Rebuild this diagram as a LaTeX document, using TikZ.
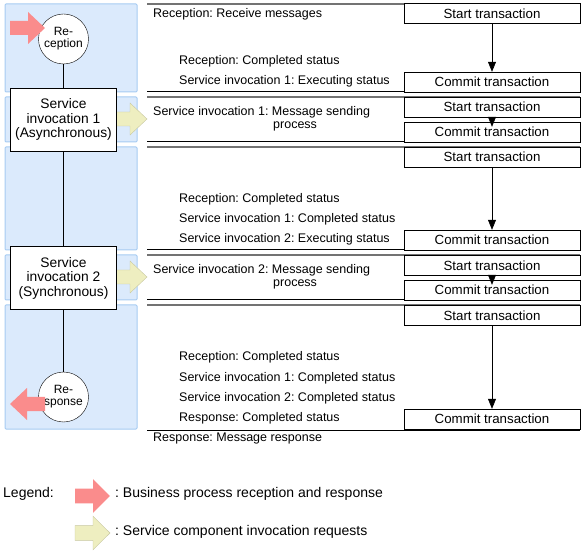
\documentclass[tikz,border=0pt]{standalone}
\usepackage{fontspec}
\setmainfont{Liberation Sans}
\frenchspacing
\usetikzlibrary{arrows.meta, positioning}
\definecolor{lanefill}{RGB}{219,234,252}
\definecolor{laneline}{RGB}{166,203,242}
\definecolor{pinkarr}{RGB}{250,140,140}
\definecolor{yellowarr}{RGB}{238,238,192}
\definecolor{yellowline}{RGB}{200,200,160}
\tikzstyle{lane} = [draw=laneline, fill=lanefill, line width=1pt, rounded corners=1pt]
\tikzstyle{txbox} = [rectangle, draw=black, fill=white, minimum width=176pt, minimum height=20pt, inner sep=0pt, font=\fontsize{13.3}{15}\selectfont]
\tikzstyle{service} = [rectangle, draw=black, fill=white, minimum width=106pt, minimum height=63pt, inner sep=0pt, align=center, font=\fontsize{13.8}{14.5}\selectfont]
\tikzstyle{endpoint} = [circle, draw=black, fill=white, minimum size=50pt, inner sep=0pt, align=center, font=\fontsize{12}{12}\selectfont]
\tikzstyle{status} = [anchor=west, inner sep=0pt, align=left, font=\fontsize{12.5}{13}\selectfont]
\tikzstyle{legendtext} = [anchor=west, inner sep=0pt, font=\fontsize{14}{16}\selectfont]
\tikzstyle{arrow} = [semithick, -{Triangle[length=10pt,width=8pt]}]
\tikzstyle{pinkarrow} = [fill=pinkarr]
\tikzstyle{yellowarrow} = [fill=yellowarr, draw=yellowline]
\tikzstyle{endline} = [black, line width=1pt]
\tikzstyle{startline} = [black!55, line width=1.5pt]
\tikzset{fatarrow/.pic={\path[pic actions] (0,-7) -- (18,-7) -- (18,-16) -- (35,0) -- (18,16) -- (18,7) -- (0,7) -- cycle;}}

\begin{document}
\begin{tikzpicture}[x=1pt, y=-1pt]
    \useasboundingbox (0,0) rectangle (584,553);

    % lanes on the left
    \draw[lane] (5,4) rectangle (137,92);
    \draw[lane] (5,97) rectangle (137,142);
    \draw[lane] (5,147) rectangle (137,250);
    \draw[lane] (5,255) rectangle (137,300);
    \draw[lane] (5,305) rectangle (137,429);

    % transaction borders
    \foreach \y in {4,97,147,255,305}
        \draw[startline] (147,\y) -- (580,\y);
    \foreach \y in {92,142,250,300,430}
        \draw[endline] (147,\y) -- (580,\y);

    % invocation requests
    \pic[yellowarrow] at (112,119) {fatarrow};
    \pic[yellowarrow] at (112,277) {fatarrow};

    \node (reception) [endpoint] at (63.5,39) {Re-\\ception};
    \node (invoke1) [service] at (63.5,119.5) {Service\\invocation 1\\(Asynchronous)};
    \node (invoke2) [service] at (63.5,278) {Service\\invocation 2\\(Synchronous)};
    \node (response) [endpoint] at (63.5,397) {Re-\\sponse};

    \draw (reception) -- (invoke1);
    \draw (invoke1) -- (invoke2);
    \draw (invoke2) -- (response);

    % reception and response
    \pic[pinkarrow] at (10,28) {fatarrow};
    \pic[pinkarrow, xscale=-1] at (45,404) {fatarrow};

    % transactions
    \node (start1) [txbox] at (492,13.5) {Start transaction};
    \node (commit1) [txbox] at (492,82) {Commit transaction};
    \node (start2) [txbox] at (492,107) {Start transaction};
    \node (commit2) [txbox] at (492,132) {Commit transaction};
    \node (start3) [txbox] at (492,157) {Start transaction};
    \node (commit3) [txbox] at (492,240) {Commit transaction};
    \node (start4) [txbox] at (492,265.5) {Start transaction};
    \node (commit4) [txbox] at (492,290) {Commit transaction};
    \node (start5) [txbox] at (492,315.5) {Start transaction};
    \node (commit5) [txbox] at (492,419) {Commit transaction};

    \draw [arrow] (start1) -- (commit1);
    \draw [arrow, shorten >=-5pt] (start2) -- (commit2);
    \draw [arrow] (start3) -- (commit3);
    \draw [arrow, shorten >=-5pt] (start4) -- (commit4);
    \draw [arrow] (start5) -- (commit5);

    % status texts
    \node (recv) [status] at (153,14) {Reception: Receive messages};
    \node (st1a) [status] at (179,61) {Reception: Completed status};
    \node (st1b) [status] at (179,81) {Service invocation 1: Executing status};
    \node (send1) [status] at (153,118.5) {Service invocation 1: Message sending\\\hspace*{120pt}process};
    \node (st3a) [status] at (179,199) {Reception: Completed status};
    \node (st3b) [status] at (179,219) {Service invocation 1: Completed status};
    \node (st3c) [status] at (179,239) {Service invocation 2: Executing status};
    \node (send2) [status] at (153,276.5) {Service invocation 2: Message sending\\\hspace*{120pt}process};
    \node (st5a) [status] at (179,357) {Reception: Completed status};
    \node (st5b) [status] at (179,378) {Service invocation 1: Completed status};
    \node (st5c) [status] at (179,398) {Service invocation 2: Completed status};
    \node (st5d) [status] at (179,418) {Response: Completed status};
    \node (reply) [status] at (153,438) {Response: Message response};

    % legend
    \node (legend) [legendtext] at (3,494) {Legend:};
    \pic[pinkarrow, yscale=1.05] at (75,496) {fatarrow};
    \node (legpink) [legendtext] at (115,494) {: Business process reception and response};
    \pic[yellowarrow, yscale=1.05] at (75,533) {fatarrow};
    \node (legyellow) [legendtext] at (115,532) {: Service component invocation requests};

\end{tikzpicture}
\end{document}
